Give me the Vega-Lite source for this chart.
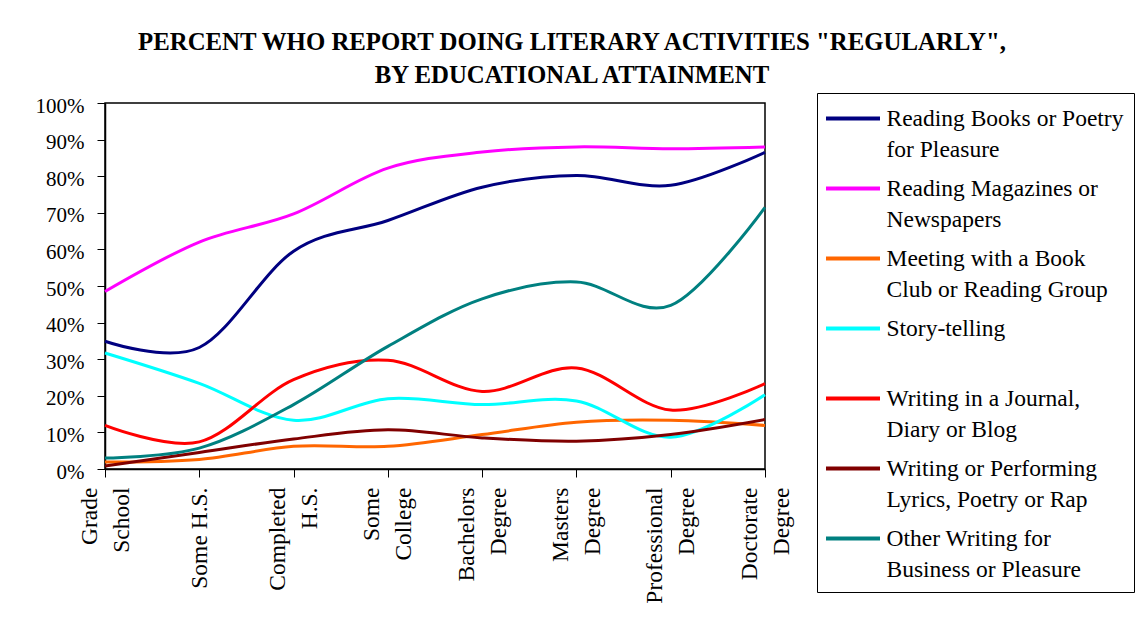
{
  "$schema": "https://vega.github.io/schema/vega-lite/v6.json",
  "autosize": {"type": "none"},
  "padding": {"left": 105, "top": 103, "right": 374, "bottom": 160},
  "width": 660,
  "height": 366,
  "background": "white",
  "title": {
    "text": ["PERCENT WHO REPORT DOING LITERARY ACTIVITIES \"REGULARLY\",", "BY EDUCATIONAL ATTAINMENT"],
    "font": "Liberation Serif",
    "fontSize": 24.8,
    "fontWeight": "bold",
    "color": "black",
    "lineHeight": 33,
    "anchor": "middle",
    "offset": 5,
    "dx": 137
  },
  "data": {
    "values": [
      {"level": "Grade School", "activity": "Reading Books or Poetry|for Pleasure", "pct": 0.349},
      {"level": "Some H.S.", "activity": "Reading Books or Poetry|for Pleasure", "pct": 0.332},
      {"level": "Completed H.S.", "activity": "Reading Books or Poetry|for Pleasure", "pct": 0.595},
      {"level": "Some College", "activity": "Reading Books or Poetry|for Pleasure", "pct": 0.679},
      {"level": "Bachelors Degree", "activity": "Reading Books or Poetry|for Pleasure", "pct": 0.770},
      {"level": "Masters Degree", "activity": "Reading Books or Poetry|for Pleasure", "pct": 0.802},
      {"level": "Professional Degree", "activity": "Reading Books or Poetry|for Pleasure", "pct": 0.775},
      {"level": "Doctorate Degree", "activity": "Reading Books or Poetry|for Pleasure", "pct": 0.865},

      {"level": "Grade School", "activity": "Reading Magazines or|Newspapers", "pct": 0.485},
      {"level": "Some H.S.", "activity": "Reading Magazines or|Newspapers", "pct": 0.620},
      {"level": "Completed H.S.", "activity": "Reading Magazines or|Newspapers", "pct": 0.697},
      {"level": "Some College", "activity": "Reading Magazines or|Newspapers", "pct": 0.822},
      {"level": "Bachelors Degree", "activity": "Reading Magazines or|Newspapers", "pct": 0.866},
      {"level": "Masters Degree", "activity": "Reading Magazines or|Newspapers", "pct": 0.880},
      {"level": "Professional Degree", "activity": "Reading Magazines or|Newspapers", "pct": 0.875},
      {"level": "Doctorate Degree", "activity": "Reading Magazines or|Newspapers", "pct": 0.880},

      {"level": "Grade School", "activity": "Meeting with a Book|Club or Reading Group", "pct": 0.019},
      {"level": "Some H.S.", "activity": "Meeting with a Book|Club or Reading Group", "pct": 0.026},
      {"level": "Completed H.S.", "activity": "Meeting with a Book|Club or Reading Group", "pct": 0.062},
      {"level": "Some College", "activity": "Meeting with a Book|Club or Reading Group", "pct": 0.062},
      {"level": "Bachelors Degree", "activity": "Meeting with a Book|Club or Reading Group", "pct": 0.094},
      {"level": "Masters Degree", "activity": "Meeting with a Book|Club or Reading Group", "pct": 0.128},
      {"level": "Professional Degree", "activity": "Meeting with a Book|Club or Reading Group", "pct": 0.133},
      {"level": "Doctorate Degree", "activity": "Meeting with a Book|Club or Reading Group", "pct": 0.119},

      {"level": "Grade School", "activity": "Story-telling", "pct": 0.317},
      {"level": "Some H.S.", "activity": "Story-telling", "pct": 0.234},
      {"level": "Completed H.S.", "activity": "Story-telling", "pct": 0.133},
      {"level": "Some College", "activity": "Story-telling", "pct": 0.192},
      {"level": "Bachelors Degree", "activity": "Story-telling", "pct": 0.176},
      {"level": "Masters Degree", "activity": "Story-telling", "pct": 0.186},
      {"level": "Professional Degree", "activity": "Story-telling", "pct": 0.087},
      {"level": "Doctorate Degree", "activity": "Story-telling", "pct": 0.203},

      {"level": "Grade School", "activity": "Writing in a Journal,|Diary or Blog", "pct": 0.119},
      {"level": "Some H.S.", "activity": "Writing in a Journal,|Diary or Blog", "pct": 0.074},
      {"level": "Completed H.S.", "activity": "Writing in a Journal,|Diary or Blog", "pct": 0.244},
      {"level": "Some College", "activity": "Writing in a Journal,|Diary or Blog", "pct": 0.297},
      {"level": "Bachelors Degree", "activity": "Writing in a Journal,|Diary or Blog", "pct": 0.212},
      {"level": "Masters Degree", "activity": "Writing in a Journal,|Diary or Blog", "pct": 0.276},
      {"level": "Professional Degree", "activity": "Writing in a Journal,|Diary or Blog", "pct": 0.161},
      {"level": "Doctorate Degree", "activity": "Writing in a Journal,|Diary or Blog", "pct": 0.233},

      {"level": "Grade School", "activity": "Writing or Performing|Lyrics, Poetry or Rap", "pct": 0.008},
      {"level": "Some H.S.", "activity": "Writing or Performing|Lyrics, Poetry or Rap", "pct": 0.045},
      {"level": "Completed H.S.", "activity": "Writing or Performing|Lyrics, Poetry or Rap", "pct": 0.082},
      {"level": "Some College", "activity": "Writing or Performing|Lyrics, Poetry or Rap", "pct": 0.107},
      {"level": "Bachelors Degree", "activity": "Writing or Performing|Lyrics, Poetry or Rap", "pct": 0.085},
      {"level": "Masters Degree", "activity": "Writing or Performing|Lyrics, Poetry or Rap", "pct": 0.076},
      {"level": "Professional Degree", "activity": "Writing or Performing|Lyrics, Poetry or Rap", "pct": 0.094},
      {"level": "Doctorate Degree", "activity": "Writing or Performing|Lyrics, Poetry or Rap", "pct": 0.135},

      {"level": "Grade School", "activity": "Other Writing for|Business or Pleasure", "pct": 0.030},
      {"level": "Some H.S.", "activity": "Other Writing for|Business or Pleasure", "pct": 0.057},
      {"level": "Completed H.S.", "activity": "Other Writing for|Business or Pleasure", "pct": 0.176},
      {"level": "Some College", "activity": "Other Writing for|Business or Pleasure", "pct": 0.335},
      {"level": "Bachelors Degree", "activity": "Other Writing for|Business or Pleasure", "pct": 0.465},
      {"level": "Masters Degree", "activity": "Other Writing for|Business or Pleasure", "pct": 0.511},
      {"level": "Professional Degree", "activity": "Other Writing for|Business or Pleasure", "pct": 0.447},
      {"level": "Doctorate Degree", "activity": "Other Writing for|Business or Pleasure", "pct": 0.715}
    ]
  },
  "mark": {"type": "line", "interpolate": "cardinal", "strokeWidth": 3},
  "encoding": {
    "x": {
      "field": "level",
      "type": "ordinal",
      "sort": ["Grade School", "Some H.S.", "Completed H.S.", "Some College", "Bachelors Degree", "Masters Degree", "Professional Degree", "Doctorate Degree"],
      "scale": {"type": "point", "padding": 0},
      "axis": {
        "title": null,
        "labelAngle": 270,
        "labelAlign": "right",
        "labelBaseline": {"condition": {"test": "datum.value === 'Some H.S.'", "value": "middle"}, "value": "line-bottom"},
        "labelExpr": "datum.value === 'Grade School' ? ['Grade\u00a0', 'School'] : datum.value === 'Some H.S.' ? 'Some H.S.\u00a0\u00a0' : datum.value === 'Completed H.S.' ? ['Completed', 'H.S.\u00a0\u00a0\u00a0\u00a0\u00a0'] : datum.value === 'Some College' ? ['Some\u00a0\u00a0', 'College'] : datum.value === 'Bachelors Degree' ? ['Bachelors', 'Degree\u00a0\u00a0'] : datum.value === 'Masters Degree' ? ['Masters', 'Degree\u00a0'] : datum.value === 'Professional Degree' ? ['Professional', 'Degree\u00a0\u00a0\u00a0\u00a0'] : ['Doctorate', 'Degree\u00a0\u00a0']",
        "labelFont": "Liberation Serif",
        "labelFontSize": 23.5,
        "labelLineHeight": 32,
        "labelColor": "black",
        "labelPadding": 10,
        "labelLimit": 300,
        "labelOverlap": false,
        "tickSize": 8,
        "tickColor": "black",
        "tickWidth": 1,
        "domainColor": "black",
        "domainWidth": 1.5,
        "grid": false,
        "encode": {"ticks": {"update": {"y": {"value": -7}, "y2": {"value": 8}}}}
      }
    },
    "y": {
      "field": "pct",
      "type": "quantitative",
      "scale": {"domain": [0, 1], "nice": false},
      "axis": {
        "title": null,
        "values": [0, 0.1, 0.2, 0.3, 0.4, 0.5, 0.6, 0.7, 0.8, 0.9, 1],
        "format": ".0%",
        "labelFont": "Liberation Serif",
        "labelFontSize": 21,
        "labelColor": "black",
        "labelPadding": 13,
        "labelOffset": 3,
        "tickSize": 8,
        "tickColor": "black",
        "tickWidth": 1,
        "domainColor": "black",
        "domainWidth": 1.5,
        "grid": false,
        "encode": {"ticks": {"update": {"x": {"value": 7}, "x2": {"value": -8}}}}
      }
    },
    "color": {
      "field": "activity",
      "type": "nominal",
      "scale": {
        "domain": ["Reading Books or Poetry|for Pleasure", "Reading Magazines or|Newspapers", "Meeting with a Book|Club or Reading Group", "Story-telling", "Writing in a Journal,|Diary or Blog", "Writing or Performing|Lyrics, Poetry or Rap", "Other Writing for|Business or Pleasure"],
        "range": ["#000080", "#FF00FF", "#FF6600", "#00FFFF", "#FF0000", "#800000", "#008080"]
      },
      "legend": {
        "title": null,
        "orient": "none",
        "legendX": 712,
        "legendY": -10,
        "symbolType": "M-2,0H2",
        "symbolSize": 729,
        "symbolStrokeWidth": 4,
        "symbolOffset": 10.5,
        "labelExpr": "indexof(datum.label, '|') >= 0 ? split(datum.label, '|') : [datum.label, '']",
        "labelFont": "Liberation Serif",
        "labelFontSize": 23.5,
        "labelColor": "black",
        "labelLimit": 400,
        "labelOffset": 18,
        "labelBaseline": "middle",
        "rowPadding": 11,
        "padding": 10,
        "strokeColor": "black",
        "fillColor": "white",
        "encode": {"labels": {"update": {"lineHeight": {"value": 31.5}}}}
      }
    }
  },
  "config": {
    "view": {"stroke": "black", "strokeWidth": 1.5}
  }
}
